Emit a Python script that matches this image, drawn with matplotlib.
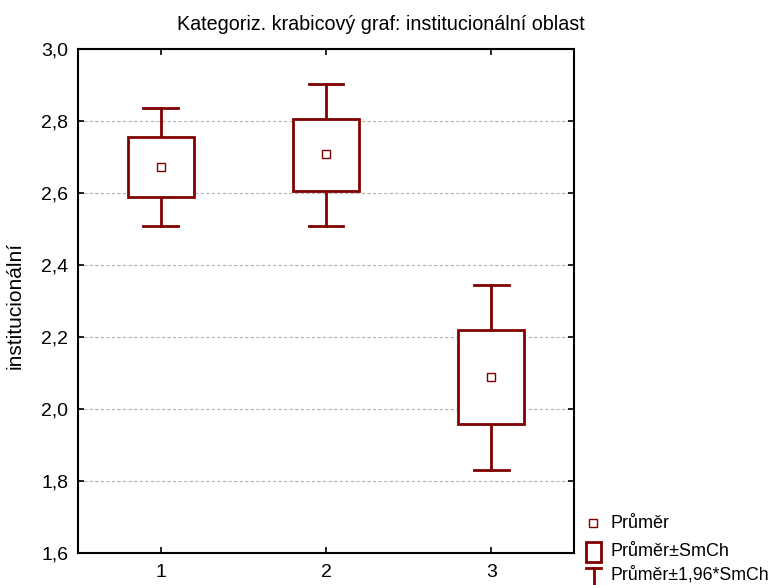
import matplotlib
matplotlib.use("Agg")
import matplotlib.pyplot as plt
from matplotlib.patches import Rectangle
from matplotlib.lines import Line2D
from matplotlib.ticker import FuncFormatter

plt.rcParams['font.family'] = ['Liberation Sans', 'DejaVu Sans']

categories = [1, 2, 3]
means = [2.672, 2.708, 2.089]
box_low = [2.589, 2.606, 1.957]
box_high = [2.756, 2.806, 2.219]
whisk_low = [2.508, 2.508, 1.831]
whisk_high = [2.837, 2.902, 2.345]
yticks = [1.6, 1.8, 2.0, 2.2, 2.4, 2.6, 2.8, 3.0]

color = '#800000'
W, H = 776, 585
fig = plt.figure(figsize=(W / 100, H / 100), dpi=100)
ax = fig.add_axes([78 / W, 1 - 553 / H, (574 - 78) / W, (553 - 49) / H])

box_w = 0.40
cap_w = 0.21
for x, m, bl, bh, wl, wh in zip(categories, means, box_low, box_high, whisk_low, whisk_high):
    ax.plot([x, x], [bh, wh], color=color, lw=2, zorder=3)
    ax.plot([x, x], [wl, bl], color=color, lw=2, zorder=3)
    ax.plot([x - cap_w / 2, x + cap_w / 2], [wh, wh], color=color, lw=2, zorder=3)
    ax.plot([x - cap_w / 2, x + cap_w / 2], [wl, wl], color=color, lw=2, zorder=3)
    ax.add_patch(Rectangle((x - box_w / 2, bl), box_w, bh - bl, facecolor='white',
                           edgecolor=color, lw=2, zorder=3))
ax.plot(categories, means, linestyle='none', marker='s', markersize=6,
        markerfacecolor='white', markeredgecolor=color, markeredgewidth=1, zorder=4)

ax.set_xlim(0.5, 3.5)
ax.set_ylim(1.6, 3.0)
ax.set_xticks(categories)
ax.set_yticks(yticks)
ax.yaxis.set_major_formatter(FuncFormatter(lambda v, p: f"{v:.1f}".replace('.', ',')))
ax.grid(axis='y', color='#b4b4b4', linestyle=(0, (3, 2)), lw=0.8)
ax.set_axisbelow(True)
ax.tick_params(direction='in', length=4, width=1.2, top=True, right=True,
               labelsize=14, colors='black')
ax.tick_params(axis='y', pad=7)
ax.tick_params(axis='x', pad=8)
for s in ax.spines.values():
    s.set_linewidth(1.5)

fig.text(15 / W, 1 - 305 / H, 'institucionální', rotation=90, ha='center', va='center',
         fontsize=15)
fig.text(381 / W, 1 - 25 / H, 'Kategoriz. krabicový graf: institucionální oblast',
         ha='center', va='center', fontsize=14.2)

# legend (manual, figure coordinates)
def fx(px):
    return px / W

def fy(py):
    return 1 - py / H

fig.add_artist(Rectangle((fx(589), fy(527)), 8 / W, 8 / H, transform=fig.transFigure,
                         facecolor='white', edgecolor=color, lw=1))
fig.text(fx(610), fy(524), 'Průměr', fontsize=13, va='center', ha='left')
fig.add_artist(Rectangle((fx(586), fy(562)), 15 / W, 20 / H, transform=fig.transFigure,
                         facecolor='white', edgecolor=color, lw=2))
fig.text(fx(610), fy(551), 'Průměr±SmCh', fontsize=13, va='center', ha='left')
fig.add_artist(Line2D([fx(586), fx(601)], [fy(568), fy(568)], transform=fig.transFigure,
                      color=color, lw=2))
fig.add_artist(Line2D([fx(593.5), fx(593.5)], [fy(568), fy(590)], transform=fig.transFigure,
                      color=color, lw=2))
fig.text(fx(610), fy(575), 'Průměr±1,96*SmCh', fontsize=12.8, va='center', ha='left')

fig.savefig('out.png', dpi=100)
